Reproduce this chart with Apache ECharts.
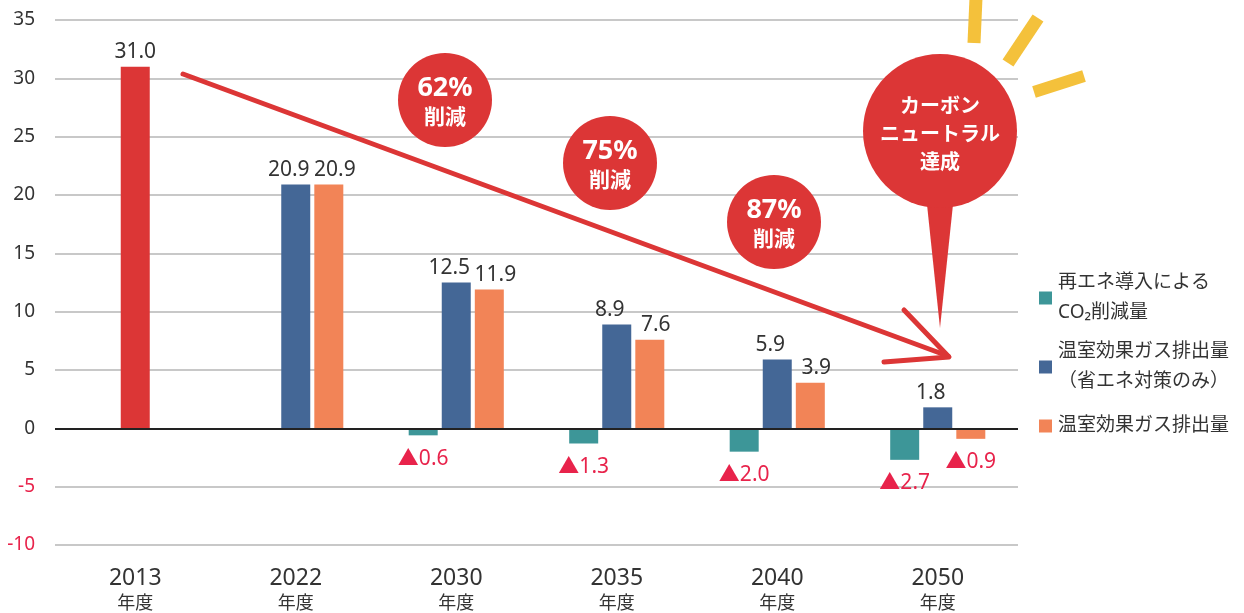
<!DOCTYPE html>
<html>
<head>
<meta charset="utf-8">
<script src="https://cdn.jsdelivr.net/npm/echarts@6/dist/echarts.min.js"></script>
<style>
  html, body { margin: 0; padding: 0; background: #fff; }
  #chart { width: 1244px; height: 613px; }
</style>
</head>
<body>
<div id="chart"></div>
<script>
// 年度
var years = ['2013', '2022', '2030', '2035', '2040', '2050'];
// 再エネ導入によるCO2削減量
var reneCut = [null, null, -0.6, -1.3, -2.0, -2.7];
// 温室効果ガス排出量（省エネ対策のみ）  ※2013年度は基準年（赤）
var energyOnly = [31.0, 20.9, 12.5, 8.9, 5.9, 1.8];
// 温室効果ガス排出量
var emission = [null, 20.9, 11.9, 7.6, 3.9, -0.9];
var yTicks = { min: -10, max: 35, interval: 5 };

var nameRene = '再エネ導入による\nCO₂削減量';
var nameOnly = '温室効果ガス排出量\n（省エネ対策のみ）';
var nameEmit = '温室効果ガス排出量';

var FONT = '"Noto Sans", "Noto Sans CJK JP", sans-serif';
var RED = '#dc3636';
var NEG = '#e8234b';

function posLabel(v) {
    return v.value < 0 ? '▲' + Math.abs(v.value).toFixed(1) : v.value.toFixed(1);
}

// 隣り合うラベルが重ならないよう少しずらす
function makeData(arr, shift) {
    return arr.map(function (v) {
        if (v === null) return '-';
        return {
            value: v,
            label: v < 0
                ? { position: 'bottom', distance: 13, color: NEG }
                : { position: 'top', distance: 4, color: '#333', offset: [shift, 0] }
        };
    });
}

var onlyData = makeData(energyOnly, -7);
onlyData[0].itemStyle = { color: '#dc3636' };
onlyData[0].label.offset = [0, 0];

var chart = echarts.init(document.getElementById('chart'));

function legendItem(name, top) {
    return {
        data: [name],
        left: 1034,
        top: top,
        orient: 'vertical',
        itemWidth: 13,
        itemHeight: 13,
        itemGap: 0,
        icon: 'rect',
        selectedMode: false,
        textStyle: {
            fontFamily: FONT,
            fontSize: 19,
            color: '#333',
            lineHeight: 30,
            padding: [30, 0, 0, 1]
        }
    };
}

var option = {
    textStyle: { fontFamily: FONT },
    grid: { left: 55, right: 226, top: 20, bottom: 68 },
    legend: [
        legendItem(nameRene, 248),
        legendItem(nameOnly, 317),
        legendItem(nameEmit, 391)
    ],
    xAxis: {
        type: 'category',
        data: years,
        axisLine: { show: false, onZero: false },
        axisTick: { show: false },
        axisLabel: {
            margin: 20,
            formatter: function (v) { return '{y|' + v + '}\n{n|年度}'; },
            rich: {
                y: { fontSize: 23, color: '#333', fontFamily: FONT, lineHeight: 26 },
                n: { fontSize: 18, color: '#333', fontFamily: FONT, lineHeight: 25 }
            }
        }
    },
    yAxis: {
        type: 'value',
        min: yTicks.min,
        max: yTicks.max,
        interval: yTicks.interval,
        axisLine: { show: false },
        axisTick: { show: false },
        splitLine: { lineStyle: { color: '#c8c8c8', width: 2 } },
        axisLabel: {
            margin: 20,
            fontSize: 19,
            fontFamily: FONT,
            color: function (v) { return Number(v) < 0 ? NEG : '#333'; }
        }
    },
    series: [
        {
            name: nameRene,
            type: 'bar',
            barWidth: 29,
            barGap: '14%',
            itemStyle: { color: '#3d9698' },
            label: { show: true, fontSize: 21, fontFamily: FONT, formatter: posLabel },
            data: makeData(reneCut, 0),
            markLine: {
                silent: true,
                symbol: 'none',
                label: { show: false },
                lineStyle: { color: '#222', width: 2, type: 'solid' },
                data: [{ yAxis: 0 }],
                z: 5
            }
        },
        {
            name: nameOnly,
            type: 'bar',
            barWidth: 29,
            barGap: '14%',
            itemStyle: { color: '#446796' },
            label: { show: true, fontSize: 21, fontFamily: FONT, formatter: posLabel },
            data: onlyData
        },
        {
            name: nameEmit,
            type: 'bar',
            barWidth: 29,
            barGap: '14%',
            itemStyle: { color: '#f28457' },
            label: { show: true, fontSize: 21, fontFamily: FONT, formatter: posLabel },
            data: makeData(emission, 6)
        }
    ],
    graphic: [
        // 矢印
        { type: 'line', z: 20, shape: { x1: 183, y1: 74, x2: 948, y2: 356 },
          style: { stroke: RED, lineWidth: 5, lineCap: 'round' } },
        { type: 'polyline', z: 20, shape: { points: [[904, 310], [949, 357], [884, 362]] },
          style: { stroke: RED, lineWidth: 5, lineCap: 'round', lineJoin: 'round', fill: null } },
        // 吹き出し
        { type: 'circle', z: 20, shape: { cx: 445, cy: 100, r: 47 }, style: { fill: RED } },
        { type: 'text', z: 21, style: { x: 445, y: 88, text: '62%', fill: '#fff', fontSize: 27, fontWeight: 'bold', fontFamily: FONT, align: 'center', verticalAlign: 'middle' } },
        { type: 'text', z: 21, style: { x: 445, y: 118, text: '削減', fill: '#fff', fontSize: 21, fontWeight: 'bold', fontFamily: FONT, align: 'center', verticalAlign: 'middle' } },
        { type: 'circle', z: 20, shape: { cx: 610, cy: 163, r: 47 }, style: { fill: RED } },
        { type: 'text', z: 21, style: { x: 610, y: 151, text: '75%', fill: '#fff', fontSize: 27, fontWeight: 'bold', fontFamily: FONT, align: 'center', verticalAlign: 'middle' } },
        { type: 'text', z: 21, style: { x: 610, y: 181, text: '削減', fill: '#fff', fontSize: 21, fontWeight: 'bold', fontFamily: FONT, align: 'center', verticalAlign: 'middle' } },
        { type: 'circle', z: 20, shape: { cx: 774, cy: 222, r: 47 }, style: { fill: RED } },
        { type: 'text', z: 21, style: { x: 774, y: 210, text: '87%', fill: '#fff', fontSize: 27, fontWeight: 'bold', fontFamily: FONT, align: 'center', verticalAlign: 'middle' } },
        { type: 'text', z: 21, style: { x: 774, y: 240, text: '削減', fill: '#fff', fontSize: 21, fontWeight: 'bold', fontFamily: FONT, align: 'center', verticalAlign: 'middle' } },
        // カーボンニュートラル
        { type: 'polygon', z: 20, shape: { points: [[926, 195], [954, 195], [940, 328]] }, style: { fill: RED } },
        { type: 'circle', z: 20, shape: { cx: 940, cy: 131, r: 77 }, style: { fill: RED } },
        { type: 'text', z: 21, style: { x: 940, y: 135, text: 'カーボン\nニュートラル\n達成', fill: '#fff', fontSize: 20, fontWeight: 'bold', lineHeight: 28, fontFamily: FONT, align: 'center', verticalAlign: 'middle' } },
        // 光線
        { type: 'line', z: 20, shape: { x1: 976, y1: -2, x2: 974, y2: 43 }, style: { stroke: '#f4c13b', lineWidth: 13 } },
        { type: 'line', z: 20, shape: { x1: 1038, y1: 18, x2: 1008, y2: 63 }, style: { stroke: '#f4c13b', lineWidth: 13 } },
        { type: 'line', z: 20, shape: { x1: 1034, y1: 92, x2: 1084, y2: 76 }, style: { stroke: '#f4c13b', lineWidth: 12 } }
    ]
};

chart.setOption(option);
</script>
</body>
</html>
